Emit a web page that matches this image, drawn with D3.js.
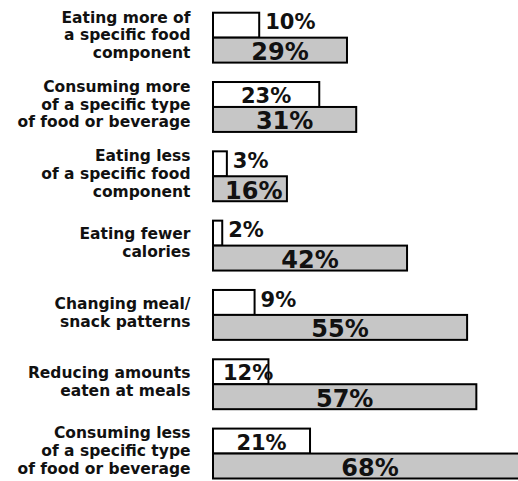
<!DOCTYPE html>
<html>
<head>
<meta charset="utf-8">
<script src="https://cdn.jsdelivr.net/npm/d3@7"></script>
<style>
  html, body { margin: 0; padding: 0; background: #fff; overflow: hidden; }
  svg { display: block; }
  text { font-family: "DejaVu Sans", Verdana, sans-serif; font-weight: bold; fill: #111; }
</style>
</head>
<body>
<svg id="chart" width="518" height="481"></svg>
<script>
// ---- data ----
const categories = [
  "Eating more of|a specific food|component",
  "Consuming more|of a specific type|of food or beverage",
  "Eating less|of a specific food|component",
  "Eating fewer|calories",
  "Changing meal/|snack patterns",
  "Reducing amounts|eaten at meals",
  "Consuming less|of a specific type|of food or beverage"
];
const seriesA = [10, 23, 3, 2, 9, 12, 21];   // white bars
const seriesB = [29, 31, 16, 42, 55, 57, 68]; // grey bars

// ---- layout ----
const W = 518, H = 481;
const svg = d3.select("#chart");

const x = d3.scaleLinear().domain([0, 100]).range([213, 213 + 462]);
const y = d3.scaleBand().domain(categories).range([12.7, 478.5]).paddingInner(0.28);
const half = y.bandwidth() / 2;
const x0 = x(0);

const rows = categories.map((c, i) => ({ c, a: seriesA[i], b: seriesB[i] }));

const g = svg.append("g");

// white bars
g.selectAll("rect.a").data(rows).join("rect")
  .attr("class", "a")
  .attr("x", x0)
  .attr("y", d => y(d.c))
  .attr("width", d => x(d.a) - x0)
  .attr("height", half)
  .attr("fill", "#ffffff")
  .attr("stroke", "#000")
  .attr("stroke-width", 2);

// grey bars
g.selectAll("rect.b").data(rows).join("rect")
  .attr("class", "b")
  .attr("x", x0)
  .attr("y", d => y(d.c) + half)
  .attr("width", d => x(d.b) - x0)
  .attr("height", half)
  .attr("fill", "#c6c6c6")
  .attr("stroke", "#000")
  .attr("stroke-width", 2);

// white bar value labels
const fsA = 21, fsB = 24;
const twA = v => (String(v).length * 0.696 + 1.002) * fsA;
const twB = v => (String(v).length * 0.696 + 1.002) * fsB;

g.selectAll("text.va").data(rows).join("text")
  .attr("class", "va")
  .style("font-size", fsA + "px")
  .each(function(d) {
    const bw = x(d.a) - x0;
    const t = d3.select(this).text(d.a + "%");
    const bottom = y(d.c) + half;
    if (bw >= 50) {
      const cx = Math.max((x0 + x(d.a)) / 2, x0 + twA(d.a) / 2 + 10);
      t.attr("x", cx).attr("text-anchor", "middle").attr("y", bottom - 3.8);
    } else {
      t.attr("x", x(d.a) + 6).attr("text-anchor", "start").attr("y", bottom - 8.3);
    }
  });

// grey bar value labels
g.selectAll("text.vb").data(rows).join("text")
  .attr("class", "vb")
  .style("font-size", fsB + "px")
  .attr("text-anchor", "middle")
  .attr("x", d => Math.max((x0 + x(d.b)) / 2, x0 + twB(d.b) / 2 + 12))
  .attr("y", d => y(d.c) + 2 * half - 2.5)
  .text(d => d.b + "%");

// category labels
const lh = 17.8;
const lab = g.selectAll("text.cat").data(rows).join("text")
  .attr("class", "cat")
  .style("font-size", "15.5px")
  .attr("text-anchor", "end")
  .each(function(d) {
    const lines = d.c.split("|");
    const cy = y(d.c) + half - 3;
    const t = d3.select(this);
    lines.forEach((ln, k) => {
      t.append("tspan")
        .attr("x", 190.5)
        .attr("y", cy + (k - (lines.length - 1) / 2) * lh + 5.7)
        .text(ln);
    });
  });
</script>
</body>
</html>
